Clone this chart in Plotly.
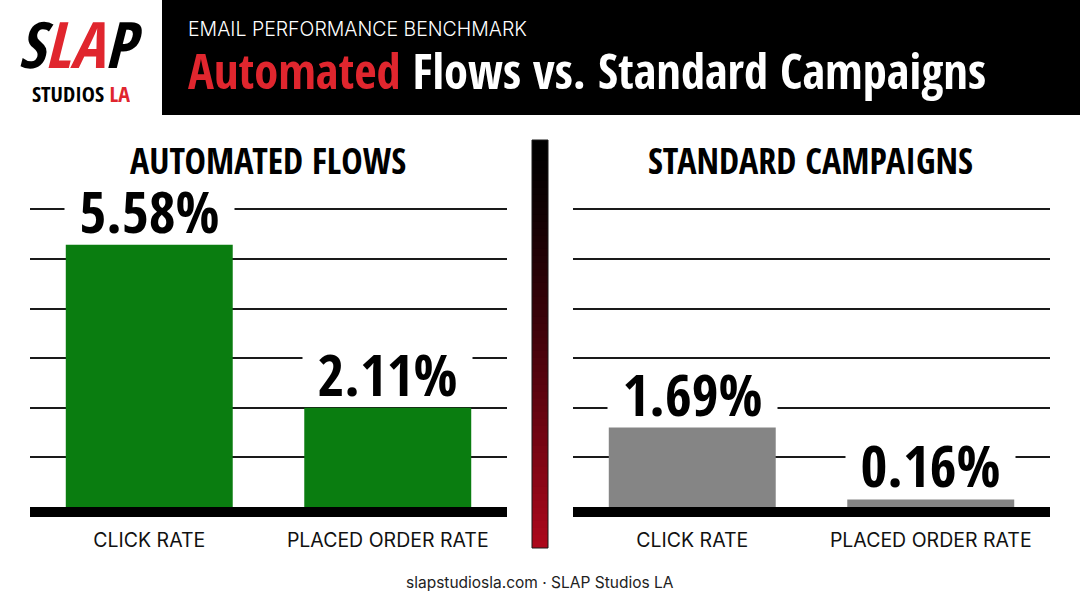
import plotly.graph_objects as go
from plotly.subplots import make_subplots

# ---- data ----
categories = ["CLICK RATE", "PLACED ORDER RATE"]
flows_values = [5.58, 2.11]
campaign_values = [1.69, 0.16]
panel_titles = ["AUTOMATED FLOWS", "STANDARD CAMPAIGNS"]
header_kicker = "EMAIL PERFORMANCE BENCHMARK"
footer_text = "slapstudiosla.com · SLAP Studios LA"

W, H = 1080, 603
COND = "Open Sans Condensed, Roboto Condensed, DejaVu Sans Condensed, sans-serif"
SANS = "Inter, Roboto, Noto Sans, sans-serif"
GREEN = "#0a7d10"
GRAY = "#858585"
RED = "#e0262e"

def px(x):
    return x / W

def py(y):
    return (H - y) / H

fig = make_subplots(rows=1, cols=2)

fig.add_trace(go.Bar(x=categories, y=flows_values, marker=dict(color=GREEN, line=dict(width=0)),
                     hoverinfo="skip", showlegend=False), row=1, col=1)
fig.add_trace(go.Bar(x=categories, y=campaign_values, marker=dict(color=GRAY, line=dict(width=0)),
                     hoverinfo="skip", showlegend=False), row=1, col=2)

plot_bottom, plot_top = 507, 200
px_per_unit = 47.0
yrange = (plot_bottom - plot_top) / px_per_unit
grid_step = 49.6 / px_per_unit

for i, (x0, x1) in enumerate([(30, 507), (573, 1050)]):
    xa = "xaxis" if i == 0 else "xaxis2"
    ya = "yaxis" if i == 0 else "yaxis2"
    fig.layout[xa].update(domain=[px(x0), px(x1)], showgrid=False, zeroline=False,
                          showline=True, linewidth=10, linecolor="#000",
                          ticks="", ticklabelstandoff=7,
                          tickfont=dict(family=SANS, size=19.5, color="#111"))
    fig.layout[ya].update(domain=[py(plot_bottom), py(plot_top)], range=[0, yrange],
                          showgrid=True, gridcolor="#1a1a1a", gridwidth=2,
                          tick0=0, dtick=grid_step, zeroline=False,
                          showticklabels=False, showline=False, ticks="")

annotations = []
# value labels
for xr, yr, vals in [("x", "y", flows_values), ("x2", "y2", campaign_values)]:
    for c, v in zip(categories, vals):
        annotations.append(dict(xref=xr, yref=yr, x=c, y=v, text=f"<b>{v:.2f}%</b>",
                                showarrow=False, yanchor="bottom", yshift=5,
                                width=167, height=56, valign="middle", bgcolor="white",
                                font=dict(family=COND, size=58, color="#000")))
# panel titles
for t, cx in zip(panel_titles, [268, 810]):
    annotations.append(dict(xref="paper", yref="paper", x=px(cx), y=py(160), text=f"<b>{t}</b>",
                            showarrow=False, xanchor="center", yanchor="middle",
                            font=dict(family=COND, size=36, color="#000")))
# header
annotations.append(dict(xref="paper", yref="paper", x=px(186), y=py(29), text=header_kicker,
                        showarrow=False, xanchor="left", yanchor="middle",
                        font=dict(family=SANS, size=19.5, color="#fff", weight=300)))
annotations.append(dict(xref="paper", yref="paper", x=px(186), y=py(70),
                        text=f"<b><span style='color:{RED}'>Automated</span> Flows vs. Standard Campaigns</b>",
                        showarrow=False, xanchor="left", yanchor="middle",
                        font=dict(family=COND, size=48.5, color="#fff")))
# logo
annotations.append(dict(xref="paper", yref="paper", x=px(81), y=py(43),
                        text=f"<b><i>S<span style='color:{RED}'>LA</span>P</i></b>",
                        showarrow=False, xanchor="center", yanchor="middle", height=64,
                        font=dict(family=COND, size=64, color="#000")))
annotations.append(dict(xref="paper", yref="paper", x=px(81), y=py(93),
                        text=f"<b>STUDIOS <span style='color:{RED}'>LA</span></b>",
                        showarrow=False, xanchor="center", yanchor="middle", height=24,
                        font=dict(family=COND, size=22, color="#000")))
# footer
annotations.append(dict(xref="paper", yref="paper", x=0.5, y=py(582), text=footer_text,
                        showarrow=False, xanchor="center", yanchor="middle",
                        font=dict(family=SANS, size=15.5, color="#222")))

shapes = [dict(type="rect", xref="paper", yref="paper", x0=px(162), x1=1.0, y0=py(115), y1=1.0,
               fillcolor="#000", line=dict(width=0), layer="below")]

# gradient divider
top, bot, n = 140, 548, 60
c0 = (0, 0, 0)
c1 = (172, 8, 28)
for k in range(n):
    f = k / (n - 1)
    col = tuple(int(round(a + (b - a) * f ** 1.3)) for a, b in zip(c0, c1))
    ya0 = top + (bot - top) * k / n
    ya1 = min(bot, top + (bot - top) * (k + 1) / n + 1.5)
    shapes.append(dict(type="rect", xref="paper", yref="paper", x0=px(532), x1=px(548),
                       y0=py(ya1), y1=py(ya0), fillcolor="rgb(%d,%d,%d)" % col,
                       line=dict(width=0), layer="above"))
shapes.append(dict(type="rect", xref="paper", yref="paper", x0=px(532), x1=px(548),
                   y0=py(bot), y1=py(top), line=dict(color="#1a1a1a", width=1), layer="above"))

fig.update_layout(width=W, height=H, margin=dict(l=0, r=0, t=0, b=0),
                  paper_bgcolor="white", plot_bgcolor="white", bargap=0.3,
                  showlegend=False, annotations=annotations, shapes=shapes)

fig.write_html("out.html", config={"displayModeBar": False},
               post_script="document.body.style.margin='0px';")
